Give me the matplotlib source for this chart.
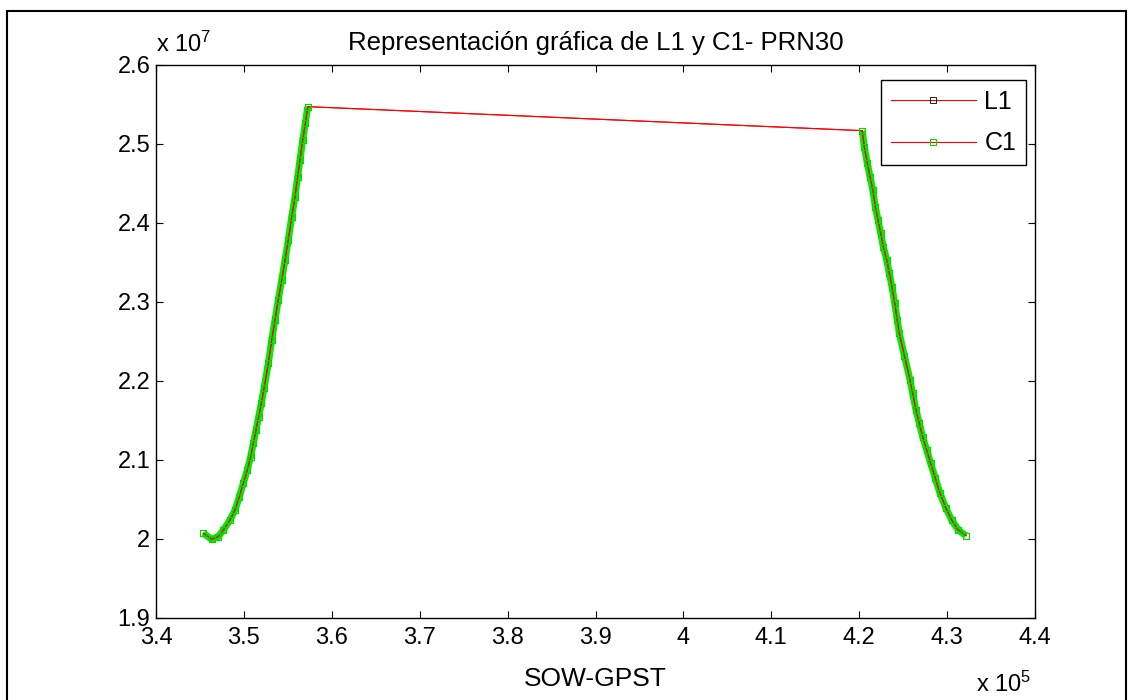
import matplotlib
matplotlib.use("Agg")
import matplotlib.pyplot as plt
import matplotlib.patches as patches
from matplotlib.ticker import FuncFormatter, MultipleLocator

plt.rcParams["font.family"] = ["Liberation Sans", "DejaVu Sans"]
plt.rcParams["mathtext.default"] = "regular"

# =========================
# DATA
# =========================

# SOW-GPST [s]
sow = [345380, 346340, 347090, 347660, 348420, 348990, 349480, 349930,
       350390, 350770, 351070, 351380, 351680, 351980, 352290, 352780,
       353160, 353540, 353910, 354300, 354680, 355050, 355440, 355810,
       356120, 356380, 356690, 356990, 357260,
       420350, 420580, 420920, 421230, 421540, 421830, 422140, 422450,
       422740, 423130, 423420, 423730, 424040, 424330, 424560, 425150,
       425780, 426080, 426460, 426840, 427220, 427680, 428130, 428660,
       429190, 429870, 430520, 431270, 432150]

# range [m]
rng = [20069000, 19993000, 20026000, 20111000, 20237000, 20364000, 20532000,
       20702000, 20871000, 21039000, 21209000, 21377000, 21546000, 21715000,
       21905000, 22222000, 22517000, 22770000, 23024000, 23277000, 23530000,
       23783000, 24079000, 24332000, 24585000, 24799000, 25052000, 25261000,
       25472000,
       25168000, 24965000, 24755000, 24585000, 24417000, 24205000, 24037000,
       23868000, 23699000, 23530000, 23362000, 23192000, 22982000, 22770000,
       22602000, 22314000, 22010000, 21842000, 21630000, 21462000, 21292000,
       21124000, 20955000, 20765000, 20576000, 20386000, 20237000, 20111000,
       20038000]

L1 = rng
C1 = rng

# =========================
# PLOT
# =========================

fig = plt.figure(figsize=(11.33, 7), dpi=100)
ax = fig.add_axes([0.1377, 0.1176, 0.7758, 0.7896])

# dense marker band of the original
arc1 = slice(0, 29)
arc2 = slice(29, None)
for s in (arc1, arc2):
    ax.plot(sow[s], C1[s], color="#00ee00", lw=5, solid_capstyle="butt",
            label="_nolegend_", zorder=1)

ax.plot(sow, L1, color="red", lw=0.8, marker="s", ms=4,
        mfc="none", mec="black", mew=0.6, label="L1", zorder=2)
ax.plot(sow, C1, color="red", lw=0.8, marker="s", ms=4,
        mfc="none", mec="#00dd00", mew=0.8, label="C1", zorder=3)

ax.set_xlim(340000, 440000)
ax.set_ylim(19000000, 26000000)
ax.xaxis.set_major_locator(MultipleLocator(10000))
ax.yaxis.set_major_locator(MultipleLocator(1000000))
ax.xaxis.set_major_formatter(FuncFormatter(lambda v, p: "%g" % round(v / 1e5, 2)))
ax.yaxis.set_major_formatter(FuncFormatter(lambda v, p: "%g" % round(v / 1e7, 2)))

ax.tick_params(direction="in", length=5, width=0.8, top=True, right=True,
               labelsize=17)
ax.tick_params(axis="y", pad=4)
ax.tick_params(axis="x", pad=7)
for sp in ax.spines.values():
    sp.set_linewidth(1.0)

ax.set_title("Representación gráfica de L1 y C1- PRN30", fontsize=18.5, pad=11)
ax.set_xlabel("SOW-GPST", fontsize=19, labelpad=13)

ax.text(0.0, 1.015, "x 10$^{7}$", transform=ax.transAxes, fontsize=17,
        ha="left", va="bottom")
ax.text(0.933, -0.1435, "x 10$^{5}$", transform=ax.transAxes, fontsize=17,
        ha="left", va="bottom")

leg = ax.legend(loc="upper right", bbox_to_anchor=(0.99, 0.973),
                borderaxespad=0, fontsize=18, handlelength=3.4,
                handletextpad=0.35, fancybox=False, framealpha=1,
                borderpad=0.4, labelspacing=0.7)
leg.get_frame().set_edgecolor("black")
leg.get_frame().set_linewidth(1.0)

# figure border
fig.patches.append(patches.Rectangle((7 / 1133, -0.02), 1119 / 1133, 0.02 + 689 / 700,
                                     transform=fig.transFigure, fill=False,
                                     edgecolor="black", lw=1.5))

fig.savefig("out.png", dpi=100)
